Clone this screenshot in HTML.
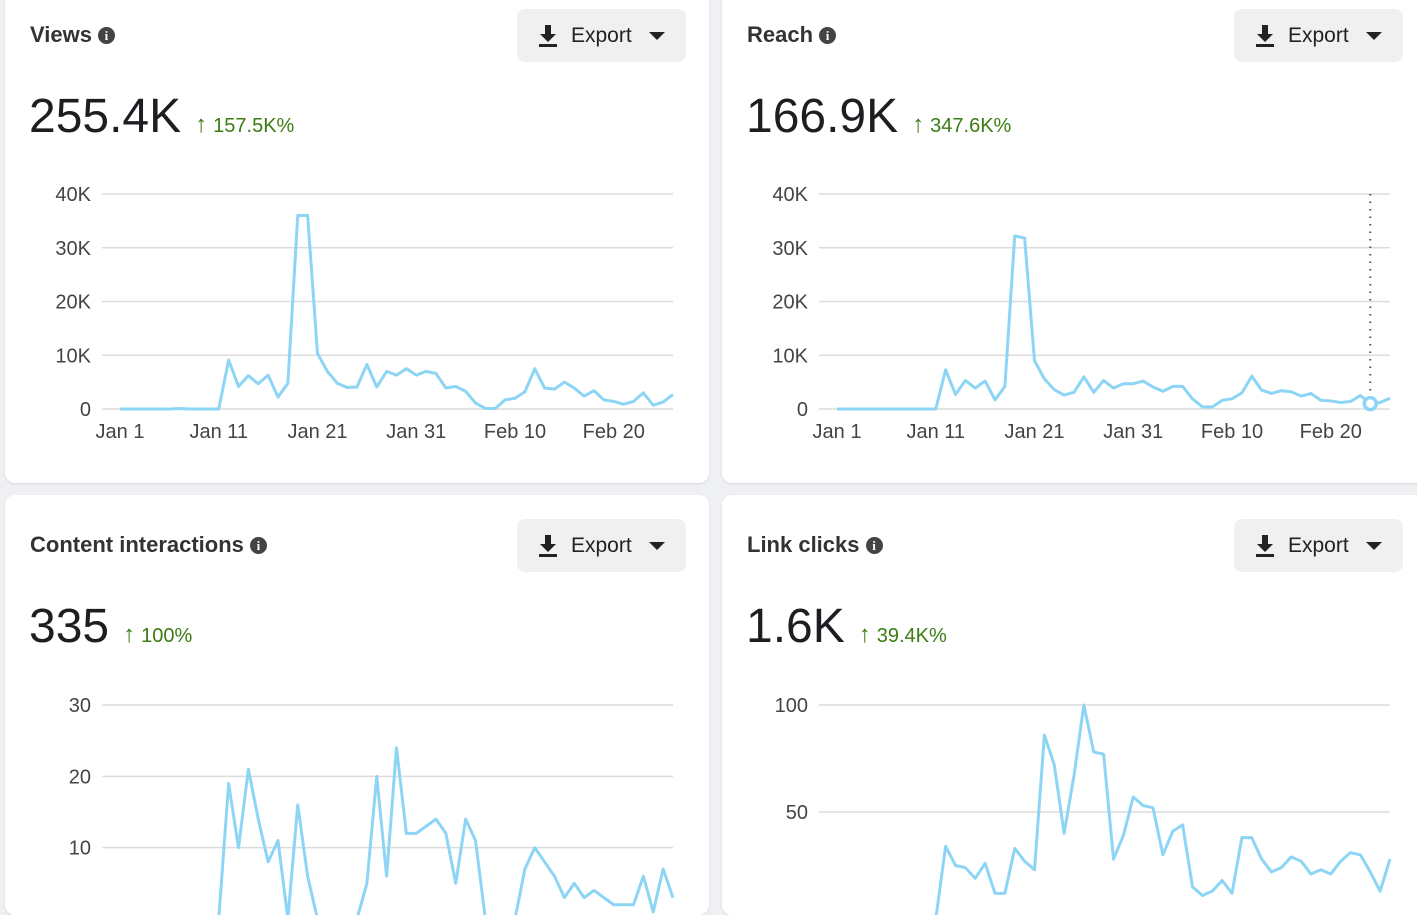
<!DOCTYPE html>
<html><head><meta charset="utf-8">
<style>
body{margin:0;width:1417px;height:894px;overflow:hidden;background:#eef0f3;font-family:"Liberation Sans",Roboto,sans-serif;position:relative}
.card{position:absolute;background:#fff;border-radius:10px;box-shadow:0 1px 2px rgba(0,0,0,.1);overflow:hidden}
.title{position:absolute;left:25px;font-size:22px;font-weight:bold;color:#333;display:flex;align-items:center;gap:6px}
.info{display:inline-block;width:17px;height:17px;border-radius:50%;background:#444;color:#fff;font-size:13px;line-height:17px;text-align:center;font-family:"Liberation Serif",serif;font-weight:bold}
.export{position:absolute;left:512px;width:169px;height:53px;background:#f0f0f0;border-radius:8px;font-size:21px;color:#222;display:flex;align-items:center}
.big{position:absolute;left:24px;font-size:48px;color:#1c1e21;display:flex;align-items:baseline}
.arr{font-size:24px;color:#3b7d12;margin-left:14px}
.pct{font-size:20px;color:#3b7d12;margin-left:6px}
svg{position:absolute;left:0;top:0}
</style></head><body>
<script>
const xTickLabels=["Jan 1","Jan 11","Jan 21","Jan 31","Feb 10","Feb 20"];
const xTickIdx=[0,10,20,30,40,50];
const viewsVals=[0,0,0,0,0,0,0.1,0,0,0,0,9.1,4.2,6.2,4.7,6.3,2.2,4.8,36,36,10.3,7,4.8,4,4.1,8.3,4.1,7,6.3,7.5,6.3,7,6.6,3.9,4.2,3.3,1.1,0.1,0.1,1.7,2,3.2,7.5,3.9,3.7,5,3.9,2.4,3.4,1.7,1.4,0.9,1.4,3,0.7,1.3,2.7];
const viewsTicks=[0,10,20,30,40];const viewsTickLabels=["0","10K","20K","30K","40K"];
const reachVals=[0,0,0,0,0,0,0,0,0,0,0,7.3,2.7,5.3,3.9,5.2,1.7,4.2,32.2,31.8,9,5.6,3.6,2.6,3.1,6,3.1,5.3,3.9,4.7,4.7,5.2,4.1,3.3,4.2,4.2,1.9,0.4,0.4,1.6,1.9,3,6.1,3.5,2.9,3.4,3.2,2.4,2.9,1.6,1.5,1.2,1.4,2.5,1,1.2,2];
const reachTicks=[0,10,20,30,40];const reachTickLabels=["0","10K","20K","30K","40K"];
const ciVals=[0,0,0,0,0,0,0,0,0,0,0,19,10,21,14,8,11,0,16,6,0,0,0,0,0,5,20,6,24,12,12,13,14,12,5,14,11,0,0,0,0,7,10,8,6,3,5,3,4,3,2,2,2,6,1,7,3];
const ciTicks=[10,20,30];const ciTickLabels=["10","20","30"];
const lcVals=[0,0,0,0,0,0,0,0,0,0,0,34,25,24,19,26,12,12,33,27,23,86,72,40,67,100,78,77,28,39,57,53,52,30,41,44,15,11,13,18,12,38,38,28,22,24,29,27,21,23,21,27,31,30,22,13,28];
const lcTicks=[50,100];const lcTickLabels=["50","100"];

function makeCard(o){
  const days=o.vals.length;
  const c=document.createElement('div');c.className='card';
  
  
  c.style.left=o.x+'px';c.style.top=o.y+'px';c.style.width=o.w+'px';c.style.height=o.h+'px';
  c.innerHTML=`<div class="title" style="top:${o.hy+13}px">${o.title}<span class="info">i</span></div>
  <div class="export" style="top:${o.hy}px"><svg width="22" height="26" style="position:static;margin:0 12px 0 20px" viewBox="0 0 22 26"><path d="M8 2h6v9h5l-8 8-8-8h5z" fill="#222"/><rect x="2" y="21" width="18" height="3" fill="#222"/></svg>Export<svg width="16" height="10" style="position:static;margin-left:17px" viewBox="0 0 16 10"><path d="M0 1h16l-8 8z" fill="#222"/></svg></div>
  <div class="big" style="top:${o.hy+80}px">${o.total}<span class="arr">&#8593;</span><span class="pct">${o.pct}</span></div>`;
  document.body.appendChild(c);
  const ns='http://www.w3.org/2000/svg';
  const s=document.createElementNS(ns,'svg');s.setAttribute('width',o.w);s.setAttribute('height',o.h);
  
  
  c.appendChild(s);
  const x0=115,x1=668,left=97,right=668;
  const xs=i=>x0+(x1-x0)*i/(days-1);
  const ys=v=>o.base+(o.top-o.base)*v/o.max;
  o.ticks.forEach((t,k)=>{
    const y=ys(t);
    const l=document.createElementNS(ns,'line');
    l.setAttribute('x1',left);l.setAttribute('x2',right);l.setAttribute('y1',y);l.setAttribute('y2',y);
    l.setAttribute('stroke','#dcdcdc');l.setAttribute('stroke-width','1.5');
    
    
    s.appendChild(l);
    const tx=document.createElementNS(ns,'text');
    tx.setAttribute('x',86);tx.setAttribute('y',y+7);tx.setAttribute('text-anchor','end');
    tx.setAttribute('font-size','20');tx.setAttribute('fill','#444');tx.textContent=o.tickLabels[k];
    
    
    s.appendChild(tx);
  });
  if(o.xlabels){xTickIdx.forEach((i,k)=>{
    const tx=document.createElementNS(ns,'text');
    tx.setAttribute('x',xs(i));tx.setAttribute('y',o.base+29);tx.setAttribute('text-anchor','middle');
    tx.setAttribute('font-size','20');tx.setAttribute('fill','#444');tx.textContent=xTickLabels[k];
    
    
    s.appendChild(tx);
  });}
  const p=document.createElementNS(ns,'polyline');
  p.setAttribute('points',o.vals.map((v,i)=>xs(i)+','+ys(v)).join(' '));
  p.setAttribute('fill','none');p.setAttribute('stroke','#8dd5f5');p.setAttribute('stroke-width','3');p.setAttribute('stroke-linejoin','round');
  
  
  s.appendChild(p);
  if(o.hl!=null){
    const hx=xs(o.hl);
    const d=document.createElementNS(ns,'line');
    d.setAttribute('x1',hx);d.setAttribute('x2',hx);d.setAttribute('y1',o.top);d.setAttribute('y2',o.base);
    d.setAttribute('stroke','#555');d.setAttribute('stroke-width','2');d.setAttribute('stroke-dasharray','1.5 6');
    
    
    s.appendChild(d);
    const ci=document.createElementNS(ns,'circle');
    ci.setAttribute('cx',hx);ci.setAttribute('cy',ys(o.vals[o.hl]));ci.setAttribute('r','6');
    ci.setAttribute('fill','#fff');ci.setAttribute('stroke','#8dd5f5');ci.setAttribute('stroke-width','3.5');
    
    
    s.appendChild(ci);
  }
}
makeCard({name:'views',title:'Views',total:'255.4K',pct:'157.5K%',x:5,y:-10,w:704,h:493,hy:19,vals:viewsVals,ticks:viewsTicks,tickLabels:viewsTickLabels,max:40,base:419,top:204,xlabels:true});
makeCard({name:'reach',title:'Reach',total:'166.9K',pct:'347.6K%',x:722,y:-10,w:704,h:493,hy:19,vals:reachVals,ticks:reachTicks,tickLabels:reachTickLabels,max:40,base:419,top:204,xlabels:true,hl:54});
makeCard({name:'content-interactions',title:'Content interactions',total:'335',pct:'100%',x:5,y:495,w:704,h:420,hy:24,vals:ciVals,ticks:ciTicks,tickLabels:ciTickLabels,max:30,base:424,top:210});
makeCard({name:'link-clicks',title:'Link clicks',total:'1.6K',pct:'39.4K%',x:722,y:495,w:704,h:420,hy:24,vals:lcVals,ticks:lcTicks,tickLabels:lcTickLabels,max:100,base:424,top:210});
</script>
</body></html>
